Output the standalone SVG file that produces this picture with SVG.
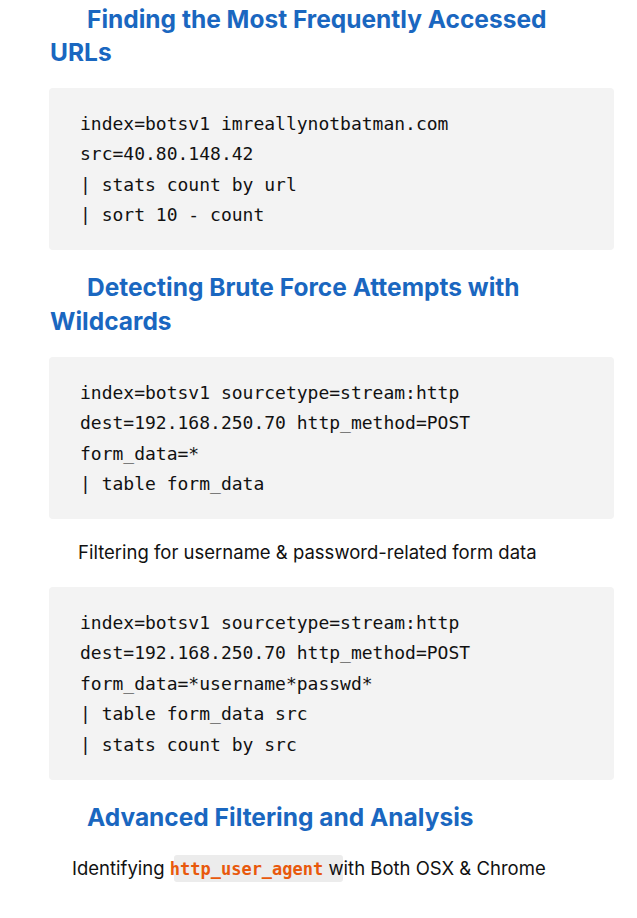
<svg xmlns="http://www.w3.org/2000/svg" width="637" height="918" viewBox="0 0 637 918">
<style>
.h{font-family:Inter,"Liberation Sans",sans-serif;font-weight:700;font-size:24.5px;fill:#1a67c0}
.c{font-family:"DejaVu Sans Mono","Liberation Mono",monospace;font-size:18px;fill:#111}
.b{fill:#f3f3f3}
.t{font-family:Inter,"Liberation Sans",sans-serif;font-size:18.5px;fill:#111}
</style>
<rect width="637" height="918" fill="#fff"/>
<g id="s1">
<text class="h" x="87" y="28">Finding the Most Frequently Accessed</text>
<text class="h" x="50" y="61">URLs</text>
<rect class="b" x="49" y="88" width="565" height="162" rx="4"/>
<text class="c" x="80" y="130">index=botsv1 imreallynotbatman.com</text>
<text class="c" x="80" y="160">src=40.80.148.42</text>
<text class="c" x="80" y="191">| stats count by url</text>
<text class="c" x="80" y="221">| sort 10 - count</text>
</g>
<g id="s2">
<text class="h" x="87" y="296">Detecting Brute Force Attempts with</text>
<text class="h" x="50" y="330">Wildcards</text>
<rect class="b" x="49" y="357" width="565" height="162" rx="4"/>
<text class="c" x="80" y="399">index=botsv1 sourcetype=stream:http</text>
<text class="c" x="80" y="429">dest=192.168.250.70 http_method=POST</text>
<text class="c" x="80" y="460">form_data=*</text>
<text class="c" x="80" y="490">| table form_data</text>
</g>
<g id="s3">
<text class="t" x="78" y="559">Filtering for username &amp; password-related form data</text>
<rect class="b" x="49" y="587" width="565" height="193" rx="4"/>
<text class="c" x="80" y="629">index=botsv1 sourcetype=stream:http</text>
<text class="c" x="80" y="659">dest=192.168.250.70 http_method=POST</text>
<text class="c" x="80" y="690">form_data=*username*passwd*</text>
<text class="c" x="80" y="720">| table form_data src</text>
<text class="c" x="80" y="751">| stats count by src</text>
</g>
<g id="s4">
<text class="h" x="87" y="826">Advanced Filtering and Analysis</text>
<rect x="174" y="855" width="169" height="27" rx="3" fill="#ececec"/>
<text class="t" x="72" y="875">Identifying <tspan fill="#e8590c" font-family="'DejaVu Sans Mono',monospace" font-weight="700" font-size="17px">http_user_agent</tspan> with Both OSX &amp; Chrome</text>
</g>
</svg>
